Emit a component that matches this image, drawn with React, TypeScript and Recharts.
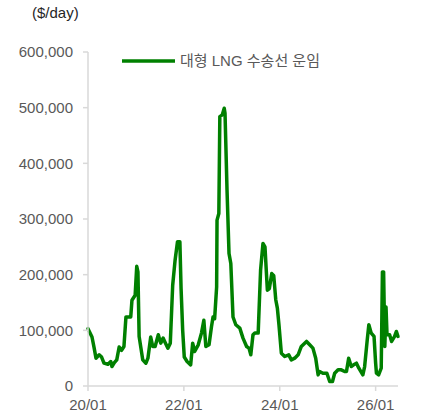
import React from 'react';
import { LineChart, Line, XAxis, YAxis } from 'recharts';

// months since 2020-01
const months = [
  0, 1, 1.5, 2, 2.8, 3.4, 4, 5, 5.7, 6, 6.6, 7.2, 7.8, 8.4, 9, 9.5, 10.7, 11, 11.8, 12.2, 12.5, 12.8,
  13.7, 14.5, 15, 15.7, 16.2, 16.8, 17.6, 18.2, 18.8, 19.4, 20, 20.6, 21.2, 21.8, 22.4, 23, 23.3, 23.7,
  24.1, 24.8, 25.7, 26.2, 26.7, 27.6, 28.4, 29, 29.5, 30.3, 30.9, 31.3, 31.7, 32.2, 32.3, 32.75, 33,
  33.6, 34.1, 34.3, 34.8, 35.3, 35.75, 36.3, 37, 38, 38.8, 39.7, 40.3, 40.75, 41.3, 41.75, 42.6, 43.2,
  43.8, 44.3, 44.9, 45.4, 46, 46.5, 47, 47.4, 47.8, 48.4, 49.25, 50.25, 50.9, 51.75, 52.6, 53.4, 54.7,
  55.5, 56.3, 57, 57.6, 58, 58.8, 59.8, 60.5, 61.2, 61.75, 62.6, 63.4, 64.25, 64.7, 65.25, 65.9, 66.5,
  67.2, 67.8, 68.8, 69.25, 69.9, 70.3, 70.9, 71.6, 72, 72.2, 72.75, 73.4, 73.7, 74, 74.3, 74.6, 74.85,
  75.5, 76, 76.75, 77.2, 77.6,
];

// $/day
const rates = [
  103000, 88000, 70000, 50000, 56000, 52000, 41000, 39000, 44000, 35000, 42000, 47000, 70000, 64000,
  71000, 124000, 124000, 154000, 163000, 215000, 205000, 89000, 47000, 41000, 50000, 88000, 71000,
  71000, 92000, 77000, 86000, 77000, 68000, 77000, 181000, 226000, 259000, 259000, 175000, 100000,
  52000, 44000, 38000, 77000, 62000, 74000, 95000, 118000, 71000, 74000, 106000, 124000, 121000,
  178000, 298000, 310000, 484000, 487000, 499000, 490000, 352000, 238000, 220000, 124000, 110000,
  104000, 86000, 71000, 68000, 56000, 92000, 95000, 95000, 208000, 256000, 250000, 172000, 175000,
  202000, 198000, 155000, 140000, 110000, 59000, 53000, 56000, 47000, 50000, 56000, 71000, 80000,
  74000, 68000, 50000, 20000, 26000, 23000, 23000, 8000, 8000, 23000, 29000, 29000, 26000, 26000,
  50000, 35000, 38000, 41000, 32000, 20000, 35000, 83000, 110000, 95000, 89000, 41000, 23000, 20000,
  32000, 205000, 205000, 71000, 142000, 92000, 92000, 80000, 89000, 98000, 89000,
];

const xTicks = [0, 24, 48, 72];
const xTickLabels = ['20/01', '22/01', '24/01', '26/01'];
const yTicks = [0, 100000, 200000, 300000, 400000, 500000, 600000];

const seriesName = '대형 LNG 수송선 운임';
const unitLabel = '($/day)';

const data = months.map((m, i) => ({ m, rate: rates[i] }));

const font = '"Liberation Sans", Arial, "Noto Sans CJK KR", sans-serif';
const green = '#008000';
const axisColor = '#d9d9d9';
const textColor = '#595959';

export default function App() {
  return (
    <div style={{ position: 'absolute', left: 0, top: 0, width: 421, height: 414, fontFamily: font }}>
      <LineChart width={421} height={414} data={data} margin={{ top: 52, right: 23, left: 0, bottom: 0 }}>
        <XAxis
          dataKey="m"
          type="number"
          domain={[0, 77.6]}
          ticks={xTicks}
          tickFormatter={(v) => xTickLabels[xTicks.indexOf(v)] ?? ''}
          height={28}
          stroke={axisColor}
          strokeWidth={1.5}
          tickSize={5}
          tickMargin={8}
          tick={{ fontSize: 15, fill: textColor, fontFamily: font }}
        />
        <YAxis
          type="number"
          domain={[0, 600000]}
          ticks={yTicks}
          width={88}
          stroke={axisColor}
          strokeWidth={1.5}
          tickSize={5}
          tickMargin={10}
          tickFormatter={(v) => v.toLocaleString('en-US')}
          tick={{ fontSize: 15, fill: textColor, fontFamily: font }}
        />
        <Line
          dataKey="rate"
          type="linear"
          stroke={green}
          strokeWidth={3.5}
          strokeLinejoin="round"
          strokeLinecap="round"
          dot={false}
          isAnimationActive={false}
        />
        <text x={32} y={18} fontSize={15} fill="#262626" fontFamily={font}>
          {unitLabel}
        </text>
        <line x1={122} y1={61} x2={175} y2={61} stroke={green} strokeWidth={3.5} />
        <text x={180} y={66} fontSize={15} fill={textColor} fontFamily={font}>
          {seriesName}
        </text>
      </LineChart>
    </div>
  );
}
